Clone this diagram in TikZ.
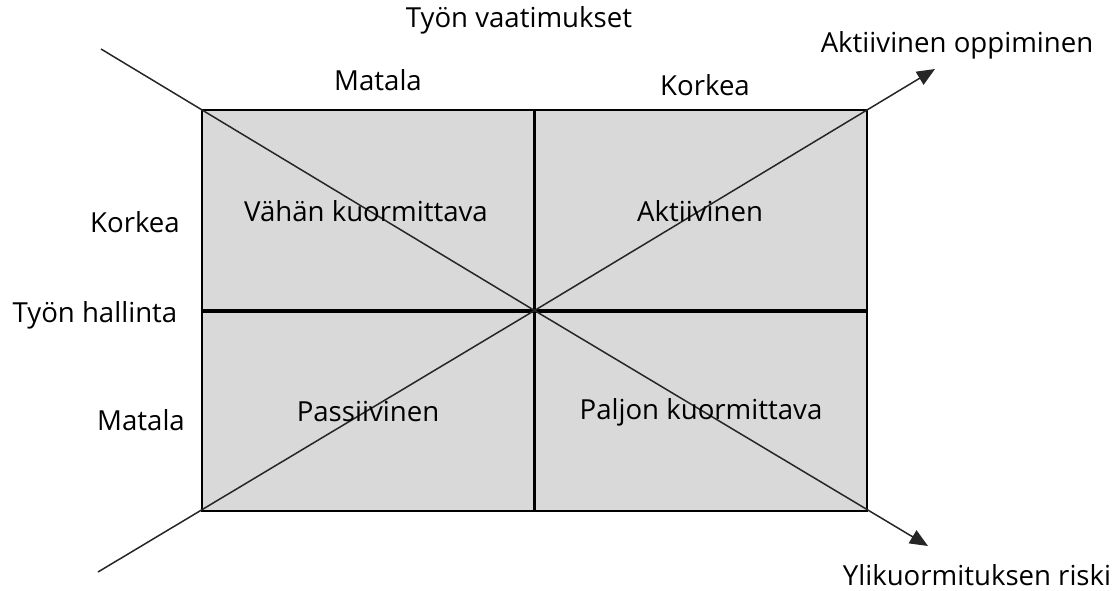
\documentclass[tikz,border=0pt]{standalone}
\usepackage{fontspec}
\setmainfont{Open Sans}
\usetikzlibrary{arrows.meta}
\definecolor{quadfill}{HTML}{D9D9D9}
\definecolor{diagline}{HTML}{262626}
\tikzset{
  lbl/.style={inner sep=0pt, font=\fontsize{27.6}{31}\selectfont, text=black},
  frame/.style={draw=black, line width=2.4pt, fill=quadfill},
  midline/.style={draw=black},
  diag/.style={draw=diagline, line width=1.5pt},
  arr/.style={-{Triangle[length=18pt,width=15pt]}}
}
\begin{document}
\begin{tikzpicture}[x=1pt,y=-1pt]
\useasboundingbox (0,0) rectangle (1119,591);
% frame
\coordinate (tl) at (202,110);
\coordinate (br) at (867,511);
\coordinate (c) at (534.5,310.5);
\coordinate (tm) at (534.5,110);
\coordinate (bm) at (534.5,511);
\coordinate (lm) at (202,310.5);
\coordinate (rm) at (867,310.5);
\draw[frame] (tl) rectangle (br);
\draw[midline, line width=2.6pt] (tm) -- (bm);
\draw[midline, line width=4pt] (lm) -- (rm);
% diagonals
\coordinate (d1s) at (101,49);
\coordinate (d1e) at (928,546);
\coordinate (d2s) at (98,572);
\coordinate (d2e) at (935,69);
\draw[diag, arr] (d1s) -- (c) -- (d1e);
\draw[diag, arr] (d2s) -- (c) -- (d2e);
% labels
\node[lbl] (tv) at (519,20) {Työn vaatimukset};
\node[lbl] (ao) at (957,45) {Aktiivinen oppiminen};
\node[lbl] (mt) at (378,80) {Matala};
\node[lbl] (kt) at (705,85) {Korkea};
\node[lbl] (kl) at (135,222) {Korkea};
\node[lbl] (th) at (95,315) {Työn hallinta};
\node[lbl] (ml) at (141,420) {Matala};
\node[lbl] (vk) at (366,211) {Vähän kuormittava};
\node[lbl] (ak) at (700,211) {Aktiivinen};
\node[lbl] (pa) at (368,412) {Passiivinen};
\node[lbl] (pk) at (701,412) {Paljon kuormittava};
\node[lbl] (yr) at (977,575) {Ylikuormituksen riski};
\end{tikzpicture}
\end{document}
